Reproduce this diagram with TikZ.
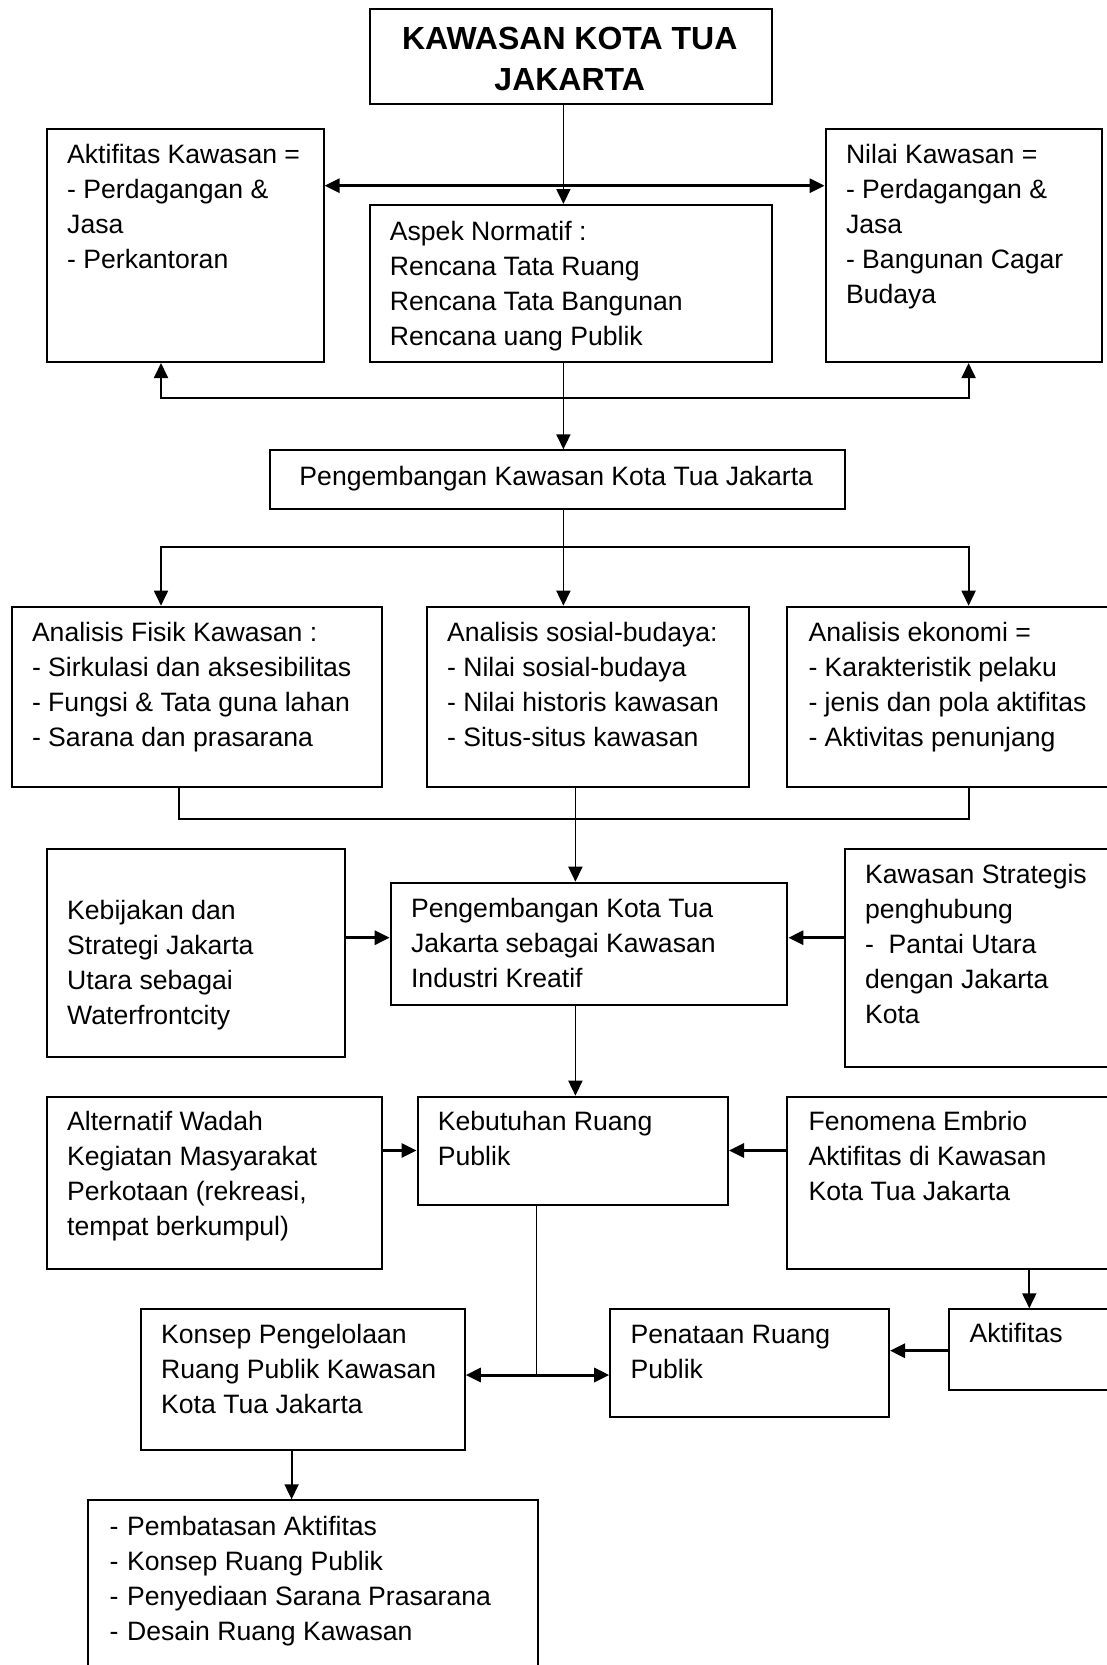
\documentclass[tikz,border=0pt]{standalone}
\usepackage{fontspec}
\setmainfont{Liberation Sans}
\usetikzlibrary{arrows.meta,calc}
% multi-line text whose baseline is that of its first line
\newcommand\boxlines[1]{\begin{tabular}[t]{@{}l@{}}#1\end{tabular}}
\begin{document}
\begin{tikzpicture}[x=1pt,y=-1pt,
  box/.style={draw, line width=2pt, rectangle, inner sep=0pt, anchor=north west},
  txt/.style={inner sep=0pt, anchor=base west,
    font=\fontsize{26.6}{35}\selectfont},
  wire/.style={line width=1.8pt},
  heavy/.style={line width=3pt},
  arrowend/.style={-{Triangle[length=15pt,width=14pt]}},
  arrowboth/.style={{Triangle[length=15pt,width=14pt]}-{Triangle[length=15pt,width=14pt]}}
]
\fill[white] (0,0) rectangle (1107,1665);
\useasboundingbox (0,0) rectangle (1107,1665);
\clip (0,0) rectangle (1107,1665);

% ---- boxes ----
\node[box, minimum width=402.5, minimum height=95]  (title)   at (368.5,8.3) {};
\node[box, minimum width=276.7, minimum height=233.3] (akt)   at (45.9,127.7) {};
\node[box, minimum width=276.4, minimum height=233.3] (nilai) at (824.6,127.7) {};
\node[box, minimum width=402.5, minimum height=157]  (aspek)  at (368.5,204) {};
\node[box, minimum width=574.6, minimum height=59]   (peng)   at (269,449.3) {};
\node[box, minimum width=370.4, minimum height=180.3] (fisik) at (10.6,605.7) {};
\node[box, minimum width=322.6, minimum height=180.3] (sosial) at (425.7,605.7) {};
\node[box, minimum width=330,   minimum height=180.3] (ekonomi) at (786.4,605.7) {};
\node[box, minimum width=297.9, minimum height=207.7] (kebij)  at (45.9,848.3) {};
\node[box, minimum width=396.7, minimum height=122.3] (pkt)    at (389.7,881.7) {};
\node[box, minimum width=280,   minimum height=217.7] (strat)  at (843.6,848.3) {};
\node[box, minimum width=335.1, minimum height=172]   (alt)    at (45.9,1095.7) {};
\node[box, minimum width=310.5, minimum height=108.3] (kebut)  at (416.5,1095.7) {};
\node[box, minimum width=330,   minimum height=172]   (fenom)  at (786.4,1095.7) {};
\node[box, minimum width=324,   minimum height=140.7] (konsep) at (139.8,1308.3) {};
\node[box, minimum width=278.8, minimum height=107.4] (penat)  at (609.2,1308.3) {};
\node[box, minimum width=170,   minimum height=81]    (aktf)   at (948,1308.3) {};
\node[box, minimum width=449.7, minimum height=190]   (hasil)  at (86.8,1499.3) {};

% ---- texts ----
\node[inner sep=0pt, anchor=base,
  font=\bfseries\fontsize{32}{41}\selectfont] (titletext) at (569.75,49)
  {\begin{tabular}[t]{@{}c@{}}KAWASAN KOTA TUA\\JAKARTA\end{tabular}};
\node[txt] (akttext) at (67,163.3)
  {\boxlines{Aktifitas Kawasan =\\- Perdagangan \&\\Jasa\\- Perkantoran}};
\node[txt] (nilaitext) at (845.8,163.3)
  {\boxlines{Nilai Kawasan =\\- Perdagangan \&\\Jasa\\- Bangunan Cagar\\Budaya}};
\node[txt] (aspektext) at (389.7,240)
  {\boxlines{Aspek Normatif :\\Rencana Tata Ruang\\Rencana Tata Bangunan\\Rencana uang Publik}};
\node[inner sep=0pt, anchor=base, font=\fontsize{26.6}{35}\selectfont] (pengtext)
  at (556.3,485) {Pengembangan Kawasan Kota Tua Jakarta};
\node[txt] (fisiktext) at (31.8,641.7)
  {\boxlines{Analisis Fisik Kawasan :\\- Sirkulasi dan aksesibilitas\\- Fungsi \& Tata guna lahan\\- Sarana dan prasarana}};
\node[txt] (sosialtext) at (446.9,641.7)
  {\boxlines{Analisis sosial-budaya:\\- Nilai sosial-budaya\\- Nilai historis kawasan\\- Situs-situs kawasan}};
\node[txt] (ekonomitext) at (808.3,641.7)
  {\boxlines{Analisis ekonomi =\\- Karakteristik pelaku\\- jenis dan pola aktifitas\\- Aktivitas penunjang}};
\node[txt] (kebijtext) at (67,919.3)
  {\boxlines{Kebijakan dan\\Strategi Jakarta\\Utara sebagai\\Waterfrontcity}};
\node[txt] (pkttext) at (410.9,917.3)
  {\boxlines{Pengembangan Kota Tua\\Jakarta sebagai Kawasan\\Industri Kreatif}};
\node[txt] (strattext) at (864.8,883.3)
  {\boxlines{Kawasan Strategis\\penghubung\\-\ \ Pantai Utara\\dengan Jakarta\\Kota}};
\node[txt] (alttext) at (67,1130.5)
  {\boxlines{Alternatif Wadah\\Kegiatan Masyarakat\\Perkotaan (rekreasi,\\tempat berkumpul)}};
\node[txt] (kebuttext) at (437.7,1130.5)
  {\boxlines{Kebutuhan Ruang\\Publik}};
\node[txt] (fenomtext) at (808.3,1130.5)
  {\boxlines{Fenomena Embrio\\Aktifitas di Kawasan\\Kota Tua Jakarta}};
\node[txt] (konseptext) at (161,1343.5)
  {\boxlines{Konsep Pengelolaan\\Ruang Publik Kawasan\\Kota Tua Jakarta}};
\node[txt] (penattext) at (630.4,1343.5)
  {\boxlines{Penataan Ruang\\Publik}};
\node[txt] (aktftext) at (969.3,1342)
  {Aktifitas};
\node[txt] (hasiltext) at (109.4,1535)
  {\boxlines{\makebox[17.6pt][l]{-}Pembatasan Aktifitas\\
   \makebox[17.6pt][l]{-}Konsep Ruang Publik\\
   \makebox[17.6pt][l]{-}Penyediaan Sarana Prasarana\\
   \makebox[17.6pt][l]{-}Desain Ruang Kawasan}};

% ---- connector columns and rows ----
\coordinate (cA) at (563.4,0);
\coordinate (cL) at (161,0);
\coordinate (cR) at (968.6,0);
\coordinate (cB) at (575.4,0);
\coordinate (cF) at (178.6,0);
\coordinate (cK) at (536.5,0);
\coordinate (cE) at (1029.3,0);
\coordinate (cP) at (291.6,0);
\coordinate (r1) at (0,185.7);
\coordinate (r2) at (0,398);
\coordinate (r3) at (0,546.7);
\coordinate (r4) at (0,819);
\coordinate (rK) at (0,937.7);
\coordinate (rW) at (0,1150.5);
\coordinate (rA) at (0,1350.7);
\coordinate (rD) at (0,1375);

% ---- connectors ----
\draw[wire, arrowend] (title.south -| cA) -- (aspek.north -| cA);
\draw[heavy, arrowboth] (akt.east |- r1) -- (nilai.west |- r1);
\draw[wire, arrowend] (aspek.south -| cA) -- (peng.north -| cA);
\draw[wire, arrowboth] (akt.south -| cL) -- (cL |- r2) -- (cR |- r2) -- (nilai.south -| cR);

\draw[wire] (peng.south -| cA) -- (cA |- r3);
\draw[wire, arrowboth] (fisik.north -| cL) -- (cL |- r3) -- (cR |- r3) -- (ekonomi.north -| cR);
\draw[wire, arrowend] (cA |- r3) -- (sosial.north -| cA);

\draw[wire] (fisik.south -| cF) -- (cF |- r4) -- (cR |- r4) -- (ekonomi.south -| cR);
\draw[wire, arrowend] (sosial.south -| cB) -- (pkt.north -| cB);

\draw[heavy, arrowend] (kebij.east |- rK) -- (pkt.west |- rK);
\draw[heavy, arrowend] (strat.west |- rK) -- (pkt.east |- rK);
\draw[wire, arrowend] (pkt.south -| cB) -- (kebut.north -| cB);

\draw[heavy, arrowend] (alt.east |- rW) -- (kebut.west |- rW);
\draw[heavy, arrowend] (fenom.west |- rW) -- (kebut.east |- rW);

\draw[wire] (kebut.south -| cK) -- (cK |- rD);
\draw[heavy, arrowboth] (konsep.east |- rD) -- (penat.west |- rD);
\draw[wire, arrowend] (fenom.south -| cE) -- (aktf.north -| cE);
\draw[heavy, arrowend] (aktf.west |- rA) -- (penat.east |- rA);
\draw[wire, arrowend] (konsep.south -| cP) -- (hasil.north -| cP);
\end{tikzpicture}
\end{document}
